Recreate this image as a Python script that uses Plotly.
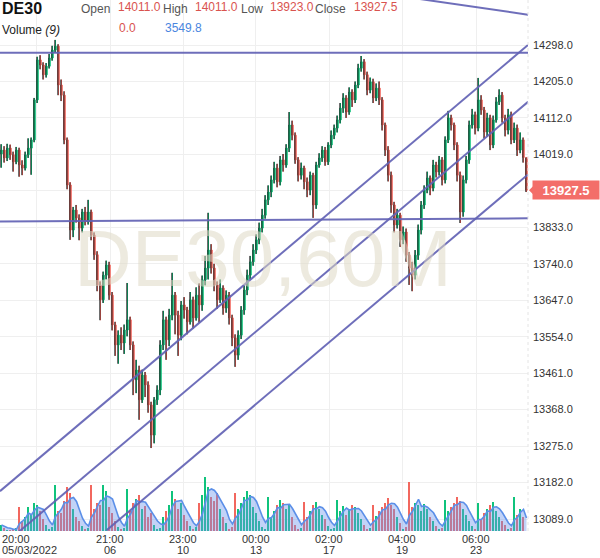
import plotly.graph_objects as go
import pandas as pd

# ---------------- data ----------------
open_ = [14020,14030,14010,14035,14018,14000,14030,13992,13984,14018,
         14035,14056,14158,14260,14247,14222,14244,14265,14285,14295,
         14196,14170,14056,13941,13826,13877,13857,13831,13872,13847,
         13872,13813,13763,13686,13648,13711,13737,13660,13584,13533,
         13558,13538,13571,13597,13533,13444,13469,13393,13456,13431,
         13380,13303,13393,13418,13533,13597,13546,13609,13660,13609,
         13558,13635,13622,13592,13648,13602,13660,13635,13699,13729,
         13775,13729,13686,13648,13678,13627,13660,13602,13551,13507,
         13558,13622,13673,13711,13745,13775,13801,13831,13864,13903,
         13923,13954,13984,13949,14005,13992,14035,14094,14068,14005,
         13966,13984,13949,13928,13966,13890,13992,14010,14030,14000,
         14043,14068,14086,14107,14137,14163,14127,14178,14158,14196,
         14239,14255,14222,14183,14204,14163,14188,14158,14094,14030,
         13966,13890,13839,13864,13801,13821,13762,13729,13711,13762,
         13826,13890,13928,13959,13933,13992,13974,14005,13954,14056,
         14112,14094,14043,13966,13872,13954,14005,14094,14120,14086,
         14158,14132,14076,14112,14043,14107,14153,14170,14112,14081,
         14120,14056,14086,14030,14056,14011]
high = [14045,14040,14046,14044,14026,14038,14036,14004,14026,14060,
        14062,14163,14268,14272,14254,14252,14275,14296,14311,14300,
        14210,14180,14062,13948,13885,13890,13866,13880,13885,13903,
        13878,13820,13772,13695,13720,13748,13745,13668,13592,13570,
        13578,13585,13691,13605,13542,13495,13480,13470,13464,13440,
        13388,13400,13430,13545,13620,13605,13625,13717,13668,13620,
        13645,13655,13630,13668,13656,13680,13690,13710,13760,13870,
        13790,13740,13695,13700,13685,13672,13668,13610,13560,13570,
        13632,13685,13725,13760,13790,13815,13845,13880,13915,13940,
        13965,14000,13995,14015,14020,14045,14127,14105,14075,14012,
        13998,13990,13960,13975,13972,14000,14022,14040,14038,14050,
        14080,14095,14118,14150,14175,14170,14190,14185,14205,14250,
        14270,14262,14230,14215,14212,14200,14205,14165,14100,14040,
        13975,13898,13880,13870,13835,13830,13770,13745,13775,13840,
        13900,13940,13975,13965,14005,14000,14015,14012,14065,14130,
        14120,14100,14050,13975,13965,14015,14105,14135,14128,14214,
        14170,14140,14125,14120,14118,14165,14185,14178,14120,14135,
        14128,14100,14095,14075,14062,14011]
low = [13985,13998,14002,14005,13975,13994,13962,13966,13978,14010,
       13967,14050,14150,14236,14210,14215,14238,14258,14278,14170,
       14155,14045,13930,13801,13808,13845,13800,13820,13838,13840,
       13800,13750,13670,13596,13640,13700,13648,13570,13505,13485,
       13520,13510,13555,13520,13405,13410,13342,13385,13400,13360,
       13270,13282,13380,13405,13520,13495,13530,13596,13560,13505,
       13545,13600,13560,13585,13575,13595,13590,13620,13685,13700,
       13715,13670,13625,13640,13610,13615,13585,13530,13477,13495,
       13548,13610,13660,13700,13735,13765,13790,13820,13855,13890,
       13910,13945,13935,13940,13975,13985,14025,14055,13995,13950,
       13955,13930,13910,13915,13857,13880,13985,14000,13990,13992,
       14035,14058,14075,14098,14125,14112,14120,14140,14150,14188,
       14230,14210,14170,14175,14150,14155,14145,14080,14015,13950,
       13870,13820,13830,13783,13790,13745,13686,13670,13700,13750,
       13815,13880,13920,13915,13925,13960,13965,13940,13945,14048,
       14080,14030,13950,13844,13860,13945,13995,14085,14070,14078,
       14120,14060,14065,14030,14035,14100,14145,14100,14065,14070,
       14045,14048,14015,14022,13998,13923]
close = [14030,14010,14035,14018,14000,14030,13992,13984,14018,14035,
         14056,14158,14260,14247,14222,14244,14265,14285,14295,14196,
         14170,14056,13941,13826,13877,13857,13831,13872,13847,13872,
         13813,13763,13686,13648,13711,13737,13660,13584,13533,13558,
         13538,13571,13597,13533,13444,13469,13393,13456,13431,13380,
         13303,13393,13418,13533,13597,13546,13609,13660,13609,13558,
         13635,13622,13592,13648,13602,13660,13635,13699,13729,13775,
         13729,13686,13648,13678,13627,13660,13602,13551,13507,13558,
         13622,13673,13711,13745,13775,13801,13831,13864,13903,13923,
         13954,13984,13949,14005,13992,14035,14094,14068,14005,13966,
         13984,13949,13928,13966,13890,13992,14010,14030,14000,14043,
         14068,14086,14107,14137,14163,14127,14178,14158,14196,14239,
         14255,14222,14183,14204,14163,14188,14158,14094,14030,13966,
         13890,13839,13864,13801,13821,13762,13729,13711,13762,13826,
         13890,13928,13959,13933,13992,13974,14005,13954,14056,14112,
         14094,14043,13966,13872,13954,14005,14094,14120,14086,14158,
         14132,14076,14112,14043,14107,14153,14170,14112,14081,14120,
         14056,14086,14030,14056,14011,13927.5]
volume = [1620,810,270,270,540,810,6480,2700,3780,6480,
          4590,7560,7020,5400,3240,1620,540,1080,12420,5400,
          4860,8100,11880,10260,5940,3780,2700,1350,540,810,
          12420,5940,7560,7020,12420,10800,6480,4860,2700,1080,
          540,810,11340,5400,7560,8640,9720,5940,6750,3780,
          4860,1620,540,810,3780,5400,7020,10800,8640,5940,
          7560,4320,2700,1350,540,1080,7560,9720,14580,11880,
          9180,8100,10260,5940,3780,2160,540,1080,10260,5940,
          7560,9180,10800,9720,6480,4860,2700,1080,540,9180,
          3780,5400,7020,8370,7560,5940,7020,3780,1620,540,
          810,7830,3780,5400,7020,7830,5940,4320,3240,1350,
          540,810,8370,5400,6750,4320,5940,7020,6480,4860,
          3240,1620,540,810,7020,4050,5400,6480,7560,8910,
          7020,5940,3780,2160,540,1080,13230,6480,7560,7020,
          5400,7290,5940,3780,2700,1350,540,810,8370,5400,
          6480,7560,9180,8100,5940,4320,2700,1350,540,7560,
          3240,4860,5940,7020,7830,5400,3780,2700,1620,540,
          810,9180,4320,5940,3780,0]

time_labels = ["20:00", "21:00", "23:00", "00:00", "02:00", "04:00", "06:00"]
date_labels = ["05/03/2022", "06", "10", "13", "17", "19", "23"]
label_candle = [11.8, 36.2, 60.5, 84.8, 109.2, 133.5, 158.2]

price_ticks = [13089.0, 13182.0, 13275.0, 13368.0, 13461.0, 13554.0, 13647.0,
               13740.0, 13833.0, 13926.0, 14019.0, 14112.0, 14205.0, 14298.0]
hidden_tick = 13926.0   # label covered by the last-price tag in the reference

# trend lines: (candle index, price) end points
trend_x0 = [-0.5, -0.5, 135.0, -0.5, 5.0, 35.0]
trend_y0 = [14278.4, 13848.0, 14420.3, 13160.0, 13051.4, 13060.0]
trend_x1 = [175.5, 175.5, 175.5, 175.5, 175.5, 175.5]
trend_y1 = [14278.4, 13856.0, 14375.3, 14298.0, 14153.0, 13968.0]

header_values = {"Open": 14011.0, "High": 14011.0, "Low": 13923.0, "Close": 13927.5}
vol_current = 0.0
vol_average = 3549.8

# ---------------- styling ----------------
GREEN = "#0fc37c"
RED = "#f2675e"
LINE = "rgba(98,98,180,0.92)"
FONT = "Liberation Sans, Arial, sans-serif"
W, H = 600, 558
ML, MR, MT, MB = 0, 72, 0, 27
PW, PH = W - ML - MR, H - MT - MB

idx = list(range(len(close)))
colors = [GREEN if c >= o else RED for o, c in zip(open_, close)]
vol_ma = pd.Series(volume).rolling(4, min_periods=1).mean().tolist()

fig = go.Figure()

# volume bars + average area (secondary axis, bottom of plot)
fig.add_trace(go.Bar(x=idx, y=volume, marker=dict(color=colors, line=dict(width=0)),
                     width=0.4, yaxis="y2", hoverinfo="skip"))
fig.add_trace(go.Scatter(x=idx, y=vol_ma, yaxis="y2", mode="lines",
                         line=dict(color="#5b8fe8", width=1.6),
                         fill="tozeroy", fillcolor="rgba(110,150,235,0.42)",
                         hoverinfo="skip"))

# candles
fig.add_trace(go.Candlestick(
    x=idx, open=open_, high=high, low=low, close=close,
    increasing=dict(line=dict(color=GREEN, width=1), fillcolor=GREEN),
    decreasing=dict(line=dict(color=RED, width=1), fillcolor=RED),
    whiskerwidth=0, hoverinfo="skip"))

# black wicks
wx, wy = [], []
for i, lo, hi in zip(idx, low, high):
    wx += [i - 0.2, i - 0.2, None]
    wy += [lo, hi, None]
fig.add_trace(go.Scatter(x=wx, y=wy, mode="lines", line=dict(color="#111111", width=1),
                         hoverinfo="skip"))

shapes = []
for x0, y0, x1, y1 in zip(trend_x0, trend_y0, trend_x1, trend_y1):
    shapes.append(dict(type="line", xref="x", yref="y", x0=x0, y0=y0, x1=x1, y1=y1,
                       line=dict(color=LINE, width=2), layer="above"))
# right axis border (dotted)
shapes.append(dict(type="line", xref="paper", yref="paper", x0=1, x1=1, y0=0, y1=1,
                    line=dict(color="#e4e4e4", width=1, dash="dot"), layer="above"))
# price tag pointer
last = close[-1]
py = (14412.8 - 13058.4) / PH  # price per pixel
shapes.append(dict(type="path", xref="paper", yref="y",
                   path=f"M {529/PW} {last} L {534/PW} {last + 5*py} L {534/PW} {last - 5*py} Z",
                   fillcolor="#f36e69", line=dict(width=0), layer="above"))

ann = []
# watermark
ann.append(dict(text="DE30,60M", xref="paper", yref="paper", x=263/PW, y=1 - 258/PH,
                showarrow=False, font=dict(family=FONT, size=80, color="rgba(222,216,196,0.55)"),
                xanchor="center", yanchor="middle"))
# header
ann.append(dict(text="<b>DE30</b>", xref="paper", yref="paper", x=0, y=1 - 8/PH,
                showarrow=False, xanchor="left", yanchor="middle",
                font=dict(family=FONT, size=16, color="#111111")))
hx = {"Open": (79, 116), "High": (161, 193), "Low": (239, 268), "Close": (313, 352)}
for k, v in header_values.items():
    lx, vx = hx[k]
    ann.append(dict(text=k, xref="paper", yref="paper", x=lx/PW, y=1 - 9/PH,
                    showarrow=False, xanchor="left", yanchor="middle",
                    font=dict(family=FONT, size=12, color="#555555")))
    ann.append(dict(text=f"{v:.1f}", xref="paper", yref="paper", x=vx/PW, y=1 - 7/PH,
                    showarrow=False, xanchor="left", yanchor="middle",
                    font=dict(family=FONT, size=12, color="#d9534f")))
ann.append(dict(text="Volume <i>(9)</i>", xref="paper", yref="paper", x=0, y=1 - 30/PH,
                showarrow=False, xanchor="left", yanchor="middle",
                font=dict(family=FONT, size=12, color="#222222")))
ann.append(dict(text=f"{vol_current:.1f}", xref="paper", yref="paper", x=117/PW, y=1 - 28/PH,
                showarrow=False, xanchor="left", yanchor="middle",
                font=dict(family=FONT, size=12, color="#d9534f")))
ann.append(dict(text=f"{vol_average:.1f}", xref="paper", yref="paper", x=163/PW, y=1 - 28/PH,
                showarrow=False, xanchor="left", yanchor="middle",
                font=dict(family=FONT, size=12, color="#4a86e0")))
# x labels (two lines: time, then date)
for k, (pos, t, d) in enumerate(zip(label_candle, time_labels, date_labels)):
    for txt, ypix in ((t, 539), (d, 550)):
        if k == 0:
            ann.append(dict(text=txt, xref="paper", yref="paper", x=0, y=1 - ypix/PH,
                            showarrow=False, xanchor="left", yanchor="middle",
                            font=dict(family=FONT, size=11, color="#333333")))
        else:
            ann.append(dict(text=txt, xref="x", yref="paper", x=pos, y=1 - ypix/PH,
                            showarrow=False, xanchor="center", yanchor="middle",
                            font=dict(family=FONT, size=11, color="#333333")))
# price tag
ann.append(dict(text=f"<b>{last:.1f}</b>", xref="paper", yref="y", x=566/PW, y=last,
                showarrow=False, xanchor="center", yanchor="middle",
                bgcolor="#f36e69", borderpad=2, width=62, height=14,
                font=dict(family=FONT, size=13, color="white")))

fig.update_layout(
    width=W, height=H, margin=dict(l=ML, r=MR, t=MT, b=MB),
    paper_bgcolor="white", plot_bgcolor="white", showlegend=False,
    bargap=0, shapes=shapes, annotations=ann,
    xaxis=dict(range=[-0.5, len(close) - 0.5], rangeslider=dict(visible=False),
               tickvals=label_candle, showticklabels=False, showgrid=True,
               gridcolor="#efefef", gridwidth=1, zeroline=False, showline=False),
    yaxis=dict(range=[13058.4, 14412.8], side="right", tickvals=price_ticks,
               ticktext=["" if v == hidden_tick else f"{v:.1f}" for v in price_ticks],
               showgrid=True, gridcolor="#efefef", zeroline=False, showline=False, ticks="",
               tickfont=dict(family=FONT, size=11, color="#333333"), ticklabelstandoff=4),
    yaxis2=dict(range=[0, PH * 270], overlaying="y", visible=False),
)

fig.write_html("out.html", config={"displayModeBar": False},
               post_script="document.body.style.margin='0';")
